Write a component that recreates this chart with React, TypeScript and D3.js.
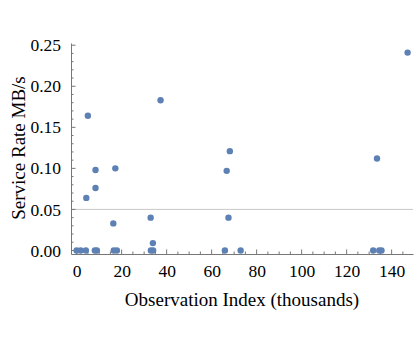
import React, { useEffect, useRef } from "react";
import * as d3 from "d3";

// observation index (thousands) and service rate (MB/s)
const obsIndex = [
  0, 1.8, 4.1, 8.1, 9.0, 16.5, 17.9, 33.0, 34.0, 65.9, 72.9, 131.8, 134.5, 135.5,
  4.3, 5.0, 8.4, 8.4, 16.3, 17.2, 32.9, 33.9, 37.3, 66.7, 67.5, 68.1, 133.5, 147.1,
];
const serviceRate = [
  0, 0, 0, 0, 0, 0, 0, 0, 0, 0, 0, 0, 0, 0,
  0.064, 0.164, 0.098, 0.076, 0.033, 0.1, 0.04, 0.009, 0.183, 0.097, 0.04, 0.121, 0.112, 0.241,
];
const xTicks = [0, 20, 40, 60, 80, 100, 120, 140];
const yTicks = [0, 0.05, 0.1, 0.15, 0.2, 0.25];
const gridValues = [0.05];

export default function App() {
  const ref = useRef<SVGSVGElement>(null);

  useEffect(() => {
    const w = 415;
    const h = 346;
    const svg = d3.select(ref.current);
    svg.selectAll("*").remove();

    const x = d3.scaleLinear().domain([-2.5, 149.5]).range([71, 413]);
    const y = d3.scaleLinear().domain([-0.0043, 0.2527]).range([254, 43]);
    const font = "'Liberation Serif', 'Times New Roman', serif";
    const axisColor = "#777";

    // grid line
    svg.append("g")
      .selectAll("line")
      .data(gridValues)
      .join("line")
      .attr("x1", 71)
      .attr("x2", 413)
      .attr("y1", d => y(d))
      .attr("y2", d => y(d))
      .attr("stroke", "#c8c8c8")
      .attr("stroke-width", 1);

    // x axis, ticks point inward
    const xAxis = d3.axisBottom(x).tickValues(xTicks).tickSize(0).tickFormat(d => String(d));
    const gx = svg.append("g").attr("transform", `translate(0,254)`).call(xAxis);
    gx.select(".domain").attr("stroke", axisColor);
    gx.selectAll("text").attr("font-family", font).attr("font-size", 17.5).attr("fill", "#000").attr("dy", "1.12em");
    const xMinor = d3.range(0, 150, 5);
    gx.selectAll(".minor")
      .data(xMinor)
      .join("line")
      .attr("class", "minor")
      .attr("x1", d => x(d))
      .attr("x2", d => x(d))
      .attr("y1", 0)
      .attr("y2", d => (d % 20 === 0 ? -4.5 : -2.5))
      .attr("stroke", axisColor);

    // y axis
    const yAxis = d3.axisLeft(y).tickValues(yTicks).tickSize(0).tickPadding(10).tickFormat(d3.format(".2f"));
    const gy = svg.append("g").attr("transform", `translate(71,0)`).call(yAxis);
    gy.select(".domain").attr("stroke", axisColor);
    gy.selectAll("text").attr("font-family", font).attr("font-size", 17.5).attr("fill", "#000");
    const yMinor = d3.range(0, 26).map(i => i / 100);
    gy.selectAll(".minor")
      .data(yMinor)
      .join("line")
      .attr("class", "minor")
      .attr("x1", 0)
      .attr("x2", (d, i) => (i % 5 === 0 ? 4.5 : 2.5))
      .attr("y1", d => y(d))
      .attr("y2", d => y(d))
      .attr("stroke", axisColor);

    // points
    svg.append("g")
      .selectAll("circle")
      .data(obsIndex.map((v, i) => [v, serviceRate[i]]))
      .join("circle")
      .attr("cx", d => x(d[0]))
      .attr("cy", d => y(d[1]))
      .attr("r", 3.2)
      .attr("fill", "#5e81b5");

    // axis labels
    svg.append("text")
      .attr("x", 242)
      .attr("y", 306)
      .attr("text-anchor", "middle")
      .attr("font-family", font)
      .attr("font-size", 19)
      .text("Observation Index (thousands)");
    svg.append("text")
      .attr("transform", `translate(25,148) rotate(-90)`)
      .attr("text-anchor", "middle")
      .attr("font-family", font)
      .attr("font-size", 19)
      .text("Service Rate MB/s");

    svg.attr("width", w).attr("height", h);
  }, []);

  return (
    <svg
      ref={ref}
      width={415}
      height={346}
      style={{ position: "absolute", left: 0, top: 0, background: "#fff" }}
    />
  );
}
